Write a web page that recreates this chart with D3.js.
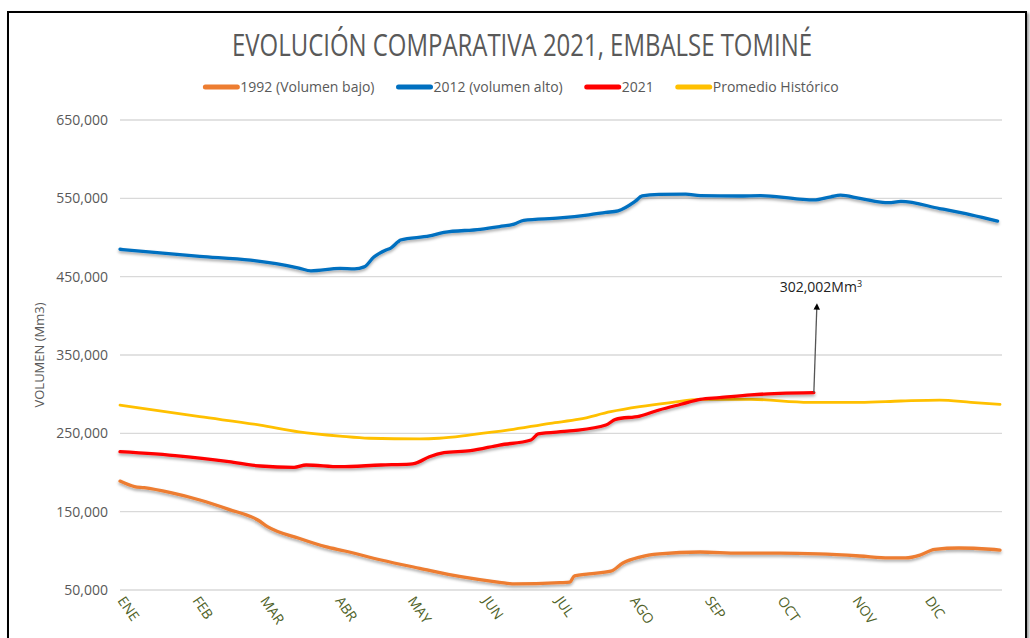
<!DOCTYPE html>
<html><head><meta charset="utf-8">
<script src="https://cdn.jsdelivr.net/npm/d3@7"></script>
<style>
body{margin:0;background:#fff;}
svg{display:block;font-family:"Open Sans",sans-serif;}
</style></head>
<body><svg id="c" width="1030" height="638"></svg>
<script>
const title = "EVOLUCIÓN COMPARATIVA 2021, EMBALSE TOMINÉ";
const yTitle = "VOLUMEN (Mm3)";
const months = ["ENE","FEB","MAR","ABR","MAY","JUN","JUL","AGO","SEP","OCT","NOV","DIC"];
const monthStartDays = [0,31,59,90,120,151,181,212,243,273,304,334];
const yTicks = [50000,150000,250000,350000,450000,550000,650000];
const seriesNames = ["1992 (Volumen bajo)","2012 (volumen alto)","2021","Promedio Histórico"];
const seriesColors = ["#ED7D31","#0070C0","#FF0000","#FFC000"];

// day of year (0-based) and volume in thousands of Mm3
const days1992 = [0,6,10,21,33,45,57,61,74,85,93,108,124,141,157,163,182,186,188,194,203,208,215,223,240,256,273,289,306,318,325,331,337,347,360,364];
const vol1992  = [189,182,180.6,174.2,164.9,153,139.4,131,116,105.3,99.8,88.3,77.7,67,59.8,57.7,59.3,60,68,70.5,74,84.5,92,96,98.5,97,97,96,93.4,91,91,94.7,102,103.6,102,101];
const days2012 = [0,33,54,74,79,91,97,101,105,110,112,115,116,128,134,149,157,163,167,182,194,201,206,213,216,223,234,240,256,265,281,287,294,298,306,318,323,339,352,363];
const vol2012  = [485,476,471,461,457.5,460.5,460,462.5,475,484,486.5,494.5,496.8,502,506.5,510.5,514,517,522,525,529,532,534,546,553,555,555.5,553.5,553,553.5,549,548,552,554,550,544.5,546,537,529,521];
const days2021 = [0,25,45,58,72,77,91,108,120,122,128,134,145,157,170,173,186,201,205,215,223,232,240,248,261,273,287];
const vol2021  = [226.6,221,213.8,208.3,206.6,209.6,207.4,209.6,210.8,211.7,220.2,225.3,227.8,235.1,241.5,249.2,253,260.6,267.9,272.1,279.8,287.1,293.4,295.5,299,301.1,302];
const daysProm = [0,33,58,74,91,103,124,132,145,161,178,190,203,215,227,240,261,285,306,323,339,352,364];
const volProm  = [286,271.2,260.5,252,246.5,243.7,242.8,243.7,248,254.3,262.8,268,277.6,284,289,293.4,293.4,289.6,289.6,291.3,292.5,289.6,287];
const lastValueLabel = "302,002";

const svg = d3.select("#c");
const defs = svg.append("defs");
const f = defs.append("filter").attr("id","sh").attr("x","-5%").attr("y","-20%").attr("width","110%").attr("height","160%");
f.append("feDropShadow").attr("dx",0).attr("dy",2).attr("stdDeviation",1.6).attr("flood-color","#000").attr("flood-opacity",0.35);
const bs = defs.append("filter").attr("id","bsh").attr("x","-5%").attr("y","-5%").attr("width","110%").attr("height","110%");
bs.append("feDropShadow").attr("dx",2).attr("dy",2).attr("stdDeviation",1.5).attr("flood-color","#000").attr("flood-opacity",0.4);
defs.append("marker").attr("id","arr").attr("viewBox","0 0 10 10").attr("refX",5).attr("refY",5)
  .attr("markerWidth",5).attr("markerHeight",5).attr("orient","auto-start-reverse")
  .append("path").attr("d","M0,0L10,5L0,10z").attr("fill","#000");

// frame
svg.append("rect").attr("x",8).attr("y",12).attr("width",1018).attr("height",640)
  .attr("fill","#fff").attr("stroke","#000").attr("stroke-width",2).attr("filter","url(#bsh)");

const x = d3.scaleLinear().domain([0,364]).range([120,1000]);
const y = d3.scaleLinear().domain([50000,650000]).range([590,120]);

// title
svg.append("text").attr("x",522).attr("y",56).attr("text-anchor","middle")
  .attr("font-size",31).attr("fill","#595959").attr("textLength",580).attr("lengthAdjust","spacingAndGlyphs")
  .text(title);

// grid
svg.append("g").selectAll("line").data(yTicks).join("line")
  .attr("x1",120).attr("x2",1002).attr("y1",d=>y(d)).attr("y2",d=>y(d))
  .attr("stroke","#d9d9d9").attr("stroke-width",1.3);

// y axis labels
const yAxis = d3.axisLeft(y).tickValues(yTicks).tickFormat(d3.format(",")).tickSize(0).tickPadding(12);
const ga = svg.append("g").attr("transform","translate(120,0)").call(yAxis);
ga.select(".domain").remove();
ga.selectAll("text").attr("font-size",14).attr("fill","#595959").attr("font-family","Open Sans");

svg.append("text").attr("transform","translate(44,355) rotate(-90)").attr("text-anchor","middle")
  .attr("font-size",13).attr("fill","#595959").text(yTitle);

// x axis labels
const xAxis = d3.axisBottom(x).tickValues(monthStartDays).tickFormat((d,i)=>months[i]).tickSize(0).tickPadding(0);
const gx = svg.append("g").attr("transform","translate(0,597)").call(xAxis);
gx.select(".domain").remove();
gx.selectAll("text").attr("font-size",14).attr("fill","#4F6228").attr("font-family","Open Sans")
  .attr("text-anchor","start").attr("dy","0.35em").attr("transform","rotate(55)").attr("dx",1);

// series
const series = [
  {days:days1992, vals:vol1992},
  {days:days2012, vals:vol2012},
  {days:days2021, vals:vol2021},
  {days:daysProm, vals:volProm}
];
const line = d3.line().x(d=>x(d[0])).y(d=>y(d[1]*1000)).curve(d3.curveMonotoneX);
const drawOrder = [3,0,1,2];
drawOrder.forEach(i=>{
  const s = series[i];
  svg.append("path").datum(s.days.map((d,k)=>[d,s.vals[k]]))
    .attr("d",line).attr("fill","none").attr("stroke",seriesColors[i])
    .attr("stroke-width",i===3?2.8:3.3).attr("stroke-linejoin","round").attr("stroke-linecap","round")
    .attr("filter",i===3?null:"url(#sh)");
});

// annotation
const lastDay = days2021[days2021.length-1], lastVal = vol2021[vol2021.length-1]*1000;
const ax = x(lastDay), ay = y(lastVal);
svg.append("path").attr("d",`M${ax},${ay}L${ax+3},${y(412000)}`).attr("stroke","#555").attr("stroke-width",1.3)
  .attr("fill","none").attr("marker-end","url(#arr)");
const ann = svg.append("text").attr("x",ax+7).attr("y",y(412000)-14).attr("text-anchor","middle")
  .attr("font-size",14).attr("fill","#222");
ann.append("tspan").text(lastValueLabel+"Mm");
ann.append("tspan").attr("font-size",9).attr("dy",-5).text("3");

// legend
const lg = svg.append("g");
let lx = 0;
seriesNames.forEach((n,i)=>{
  const g = lg.append("g");
  g.append("line").attr("x1",0).attr("x2",32).attr("y1",0).attr("y2",0)
    .attr("stroke",seriesColors[i]).attr("stroke-width",5).attr("stroke-linecap","round");
  const t = g.append("text").attr("x",35).attr("y",5).attr("font-size",14).attr("fill","#595959").text(n);
  const w = 35 + t.node().getComputedTextLength();
  g.attr("transform",`translate(${lx},0)`);
  lx += w + 24;
});
lg.attr("transform",`translate(${522 - (lx-24)/2},87)`);
</script></body></html>
